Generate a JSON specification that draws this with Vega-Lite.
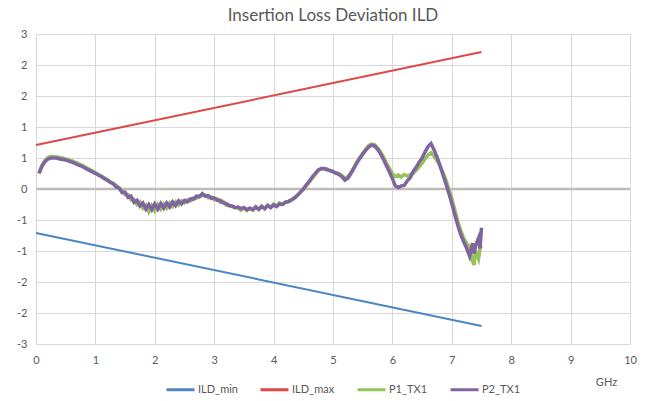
{
  "$schema": "https://vega.github.io/schema/vega-lite/v6.json",
  "autosize": "none",
  "width": 594,
  "height": 310,
  "padding": {"left": 36, "top": 34, "right": 20, "bottom": 57},
  "background": "white",
  "title": {"text": "Insertion Loss Deviation ILD", "fontSize": 17, "font": "Lato", "fontWeight": "normal", "color": "#595959", "anchor": "middle", "offset": 3},
  "config": {
    "view": {"stroke": null},
    "font": "Lato",
    "axis": {"labelFont": "Lato", "labelFontSize": 11, "labelColor": "#595959", "gridColor": "#d9d9d9", "gridWidth": 1, "ticks": false, "domain": false, "labelOverlap": false}
  },
  "datasets": {
    "ild": [
      {"f": 0, "ILD_min": -0.85, "ILD_max": 0.85},
      {"f": 7.5, "ILD_min": -2.65, "ILD_max": 2.65}
    ],
    "meas": [
      {"f": 0.05, "P1_TX1": 0.31, "P2_TX1": 0.30},
      {"f": 0.10, "P1_TX1": 0.46, "P2_TX1": 0.44},
      {"f": 0.15, "P1_TX1": 0.55, "P2_TX1": 0.53},
      {"f": 0.20, "P1_TX1": 0.61, "P2_TX1": 0.58},
      {"f": 0.25, "P1_TX1": 0.63, "P2_TX1": 0.60},
      {"f": 0.30, "P1_TX1": 0.63, "P2_TX1": 0.60},
      {"f": 0.35, "P1_TX1": 0.62, "P2_TX1": 0.60},
      {"f": 0.40, "P1_TX1": 0.61, "P2_TX1": 0.58},
      {"f": 0.45, "P1_TX1": 0.60, "P2_TX1": 0.57},
      {"f": 0.50, "P1_TX1": 0.58, "P2_TX1": 0.56},
      {"f": 0.55, "P1_TX1": 0.57, "P2_TX1": 0.54},
      {"f": 0.60, "P1_TX1": 0.55, "P2_TX1": 0.52},
      {"f": 0.65, "P1_TX1": 0.52, "P2_TX1": 0.50},
      {"f": 0.70, "P1_TX1": 0.50, "P2_TX1": 0.47},
      {"f": 0.75, "P1_TX1": 0.47, "P2_TX1": 0.45},
      {"f": 0.80, "P1_TX1": 0.45, "P2_TX1": 0.42},
      {"f": 0.85, "P1_TX1": 0.41, "P2_TX1": 0.39},
      {"f": 0.90, "P1_TX1": 0.38, "P2_TX1": 0.36},
      {"f": 0.95, "P1_TX1": 0.35, "P2_TX1": 0.33},
      {"f": 1.00, "P1_TX1": 0.32, "P2_TX1": 0.30},
      {"f": 1.05, "P1_TX1": 0.28, "P2_TX1": 0.27},
      {"f": 1.10, "P1_TX1": 0.25, "P2_TX1": 0.24},
      {"f": 1.15, "P1_TX1": 0.22, "P2_TX1": 0.20},
      {"f": 1.20, "P1_TX1": 0.18, "P2_TX1": 0.17},
      {"f": 1.25, "P1_TX1": 0.14, "P2_TX1": 0.13},
      {"f": 1.30, "P1_TX1": 0.11, "P2_TX1": 0.10},
      {"f": 1.35, "P1_TX1": 0.07, "P2_TX1": 0.04},
      {"f": 1.40, "P1_TX1": 0.02, "P2_TX1": 0.02},
      {"f": 1.45, "P1_TX1": -0.03, "P2_TX1": -0.07},
      {"f": 1.50, "P1_TX1": -0.11, "P2_TX1": -0.06},
      {"f": 1.55, "P1_TX1": -0.11, "P2_TX1": -0.16},
      {"f": 1.60, "P1_TX1": -0.21, "P2_TX1": -0.14},
      {"f": 1.65, "P1_TX1": -0.20, "P2_TX1": -0.26},
      {"f": 1.70, "P1_TX1": -0.30, "P2_TX1": -0.22},
      {"f": 1.75, "P1_TX1": -0.25, "P2_TX1": -0.33},
      {"f": 1.80, "P1_TX1": -0.37, "P2_TX1": -0.27},
      {"f": 1.85, "P1_TX1": -0.31, "P2_TX1": -0.39},
      {"f": 1.90, "P1_TX1": -0.44, "P2_TX1": -0.30},
      {"f": 1.95, "P1_TX1": -0.32, "P2_TX1": -0.40},
      {"f": 2.00, "P1_TX1": -0.42, "P2_TX1": -0.29},
      {"f": 2.05, "P1_TX1": -0.30, "P2_TX1": -0.39},
      {"f": 2.10, "P1_TX1": -0.39, "P2_TX1": -0.28},
      {"f": 2.15, "P1_TX1": -0.29, "P2_TX1": -0.37},
      {"f": 2.20, "P1_TX1": -0.37, "P2_TX1": -0.27},
      {"f": 2.25, "P1_TX1": -0.27, "P2_TX1": -0.35},
      {"f": 2.30, "P1_TX1": -0.34, "P2_TX1": -0.25},
      {"f": 2.35, "P1_TX1": -0.25, "P2_TX1": -0.32},
      {"f": 2.40, "P1_TX1": -0.31, "P2_TX1": -0.23},
      {"f": 2.45, "P1_TX1": -0.23, "P2_TX1": -0.29},
      {"f": 2.50, "P1_TX1": -0.27, "P2_TX1": -0.22},
      {"f": 2.55, "P1_TX1": -0.21, "P2_TX1": -0.25},
      {"f": 2.60, "P1_TX1": -0.23, "P2_TX1": -0.19},
      {"f": 2.65, "P1_TX1": -0.17, "P2_TX1": -0.20},
      {"f": 2.70, "P1_TX1": -0.18, "P2_TX1": -0.14},
      {"f": 2.75, "P1_TX1": -0.13, "P2_TX1": -0.15},
      {"f": 2.80, "P1_TX1": -0.13, "P2_TX1": -0.09},
      {"f": 2.85, "P1_TX1": -0.12, "P2_TX1": -0.14},
      {"f": 2.90, "P1_TX1": -0.17, "P2_TX1": -0.13},
      {"f": 2.95, "P1_TX1": -0.15, "P2_TX1": -0.18},
      {"f": 3.00, "P1_TX1": -0.21, "P2_TX1": -0.17},
      {"f": 3.05, "P1_TX1": -0.19, "P2_TX1": -0.22},
      {"f": 3.10, "P1_TX1": -0.26, "P2_TX1": -0.22},
      {"f": 3.15, "P1_TX1": -0.24, "P2_TX1": -0.27},
      {"f": 3.20, "P1_TX1": -0.31, "P2_TX1": -0.28},
      {"f": 3.25, "P1_TX1": -0.32, "P2_TX1": -0.32},
      {"f": 3.30, "P1_TX1": -0.34, "P2_TX1": -0.33},
      {"f": 3.35, "P1_TX1": -0.36, "P2_TX1": -0.36},
      {"f": 3.40, "P1_TX1": -0.37, "P2_TX1": -0.35},
      {"f": 3.45, "P1_TX1": -0.41, "P2_TX1": -0.38},
      {"f": 3.50, "P1_TX1": -0.36, "P2_TX1": -0.36},
      {"f": 3.55, "P1_TX1": -0.42, "P2_TX1": -0.40},
      {"f": 3.60, "P1_TX1": -0.37, "P2_TX1": -0.37},
      {"f": 3.65, "P1_TX1": -0.41, "P2_TX1": -0.40},
      {"f": 3.70, "P1_TX1": -0.34, "P2_TX1": -0.35},
      {"f": 3.75, "P1_TX1": -0.40, "P2_TX1": -0.39},
      {"f": 3.80, "P1_TX1": -0.33, "P2_TX1": -0.34},
      {"f": 3.85, "P1_TX1": -0.38, "P2_TX1": -0.38},
      {"f": 3.90, "P1_TX1": -0.31, "P2_TX1": -0.32},
      {"f": 3.95, "P1_TX1": -0.36, "P2_TX1": -0.36},
      {"f": 4.00, "P1_TX1": -0.29, "P2_TX1": -0.31},
      {"f": 4.05, "P1_TX1": -0.33, "P2_TX1": -0.34},
      {"f": 4.10, "P1_TX1": -0.27, "P2_TX1": -0.29},
      {"f": 4.15, "P1_TX1": -0.30, "P2_TX1": -0.30},
      {"f": 4.20, "P1_TX1": -0.25, "P2_TX1": -0.26},
      {"f": 4.25, "P1_TX1": -0.25, "P2_TX1": -0.24},
      {"f": 4.30, "P1_TX1": -0.22, "P2_TX1": -0.21},
      {"f": 4.35, "P1_TX1": -0.18, "P2_TX1": -0.17},
      {"f": 4.40, "P1_TX1": -0.13, "P2_TX1": -0.12},
      {"f": 4.45, "P1_TX1": -0.07, "P2_TX1": -0.06},
      {"f": 4.50, "P1_TX1": -0.01, "P2_TX1": 0.00},
      {"f": 4.55, "P1_TX1": 0.06, "P2_TX1": 0.08},
      {"f": 4.60, "P1_TX1": 0.13, "P2_TX1": 0.15},
      {"f": 4.65, "P1_TX1": 0.21, "P2_TX1": 0.23},
      {"f": 4.70, "P1_TX1": 0.28, "P2_TX1": 0.30},
      {"f": 4.75, "P1_TX1": 0.35, "P2_TX1": 0.37},
      {"f": 4.80, "P1_TX1": 0.40, "P2_TX1": 0.39},
      {"f": 4.85, "P1_TX1": 0.38, "P2_TX1": 0.40},
      {"f": 4.90, "P1_TX1": 0.39, "P2_TX1": 0.37},
      {"f": 4.95, "P1_TX1": 0.35, "P2_TX1": 0.36},
      {"f": 5.00, "P1_TX1": 0.35, "P2_TX1": 0.33},
      {"f": 5.05, "P1_TX1": 0.30, "P2_TX1": 0.31},
      {"f": 5.10, "P1_TX1": 0.30, "P2_TX1": 0.28},
      {"f": 5.15, "P1_TX1": 0.26, "P2_TX1": 0.24},
      {"f": 5.20, "P1_TX1": 0.21, "P2_TX1": 0.17},
      {"f": 5.25, "P1_TX1": 0.24, "P2_TX1": 0.21},
      {"f": 5.30, "P1_TX1": 0.31, "P2_TX1": 0.30},
      {"f": 5.35, "P1_TX1": 0.41, "P2_TX1": 0.40},
      {"f": 5.40, "P1_TX1": 0.52, "P2_TX1": 0.50},
      {"f": 5.45, "P1_TX1": 0.61, "P2_TX1": 0.59},
      {"f": 5.50, "P1_TX1": 0.69, "P2_TX1": 0.67},
      {"f": 5.55, "P1_TX1": 0.77, "P2_TX1": 0.75},
      {"f": 5.60, "P1_TX1": 0.84, "P2_TX1": 0.81},
      {"f": 5.65, "P1_TX1": 0.87, "P2_TX1": 0.85},
      {"f": 5.70, "P1_TX1": 0.86, "P2_TX1": 0.83},
      {"f": 5.75, "P1_TX1": 0.80, "P2_TX1": 0.77},
      {"f": 5.80, "P1_TX1": 0.72, "P2_TX1": 0.68},
      {"f": 5.85, "P1_TX1": 0.62, "P2_TX1": 0.57},
      {"f": 5.90, "P1_TX1": 0.50, "P2_TX1": 0.45},
      {"f": 5.95, "P1_TX1": 0.40, "P2_TX1": 0.33},
      {"f": 6.00, "P1_TX1": 0.30, "P2_TX1": 0.20},
      {"f": 6.05, "P1_TX1": 0.24, "P2_TX1": 0.06},
      {"f": 6.10, "P1_TX1": 0.27, "P2_TX1": 0.03},
      {"f": 6.15, "P1_TX1": 0.23, "P2_TX1": 0.06},
      {"f": 6.20, "P1_TX1": 0.28, "P2_TX1": 0.07},
      {"f": 6.25, "P1_TX1": 0.25, "P2_TX1": 0.16},
      {"f": 6.30, "P1_TX1": 0.28, "P2_TX1": 0.22},
      {"f": 6.35, "P1_TX1": 0.30, "P2_TX1": 0.34},
      {"f": 6.40, "P1_TX1": 0.36, "P2_TX1": 0.42},
      {"f": 6.45, "P1_TX1": 0.43, "P2_TX1": 0.52},
      {"f": 6.50, "P1_TX1": 0.50, "P2_TX1": 0.60},
      {"f": 6.55, "P1_TX1": 0.58, "P2_TX1": 0.72},
      {"f": 6.60, "P1_TX1": 0.66, "P2_TX1": 0.82},
      {"f": 6.65, "P1_TX1": 0.70, "P2_TX1": 0.88},
      {"f": 6.70, "P1_TX1": 0.64, "P2_TX1": 0.76},
      {"f": 6.75, "P1_TX1": 0.55, "P2_TX1": 0.62},
      {"f": 6.80, "P1_TX1": 0.45, "P2_TX1": 0.46},
      {"f": 6.85, "P1_TX1": 0.32, "P2_TX1": 0.28},
      {"f": 6.90, "P1_TX1": 0.18, "P2_TX1": 0.10},
      {"f": 6.95, "P1_TX1": 0.00, "P2_TX1": -0.08},
      {"f": 7.00, "P1_TX1": -0.18, "P2_TX1": -0.28},
      {"f": 7.05, "P1_TX1": -0.40, "P2_TX1": -0.50},
      {"f": 7.10, "P1_TX1": -0.62, "P2_TX1": -0.70},
      {"f": 7.15, "P1_TX1": -0.80, "P2_TX1": -0.88},
      {"f": 7.20, "P1_TX1": -0.95, "P2_TX1": -1.02},
      {"f": 7.25, "P1_TX1": -1.05, "P2_TX1": -1.15},
      {"f": 7.30, "P1_TX1": -1.12, "P2_TX1": -1.30},
      {"f": 7.35, "P1_TX1": -1.40, "P2_TX1": -1.05},
      {"f": 7.375, "P1_TX1": -1.47, "P2_TX1": -1.25},
      {"f": 7.40, "P1_TX1": -1.20, "P2_TX1": -1.10},
      {"f": 7.45, "P1_TX1": -1.35, "P2_TX1": -0.95},
      {"f": 7.475, "P1_TX1": -1.15, "P2_TX1": -1.15},
      {"f": 7.50, "P1_TX1": -1.10, "P2_TX1": -0.75}
    ]
  },
  "layer": [
    {
      "data": {"values": [{"z": 0}]},
      "mark": {"type": "rule", "color": "#bfbcb8", "strokeWidth": 2.5},
      "encoding": {
        "y": {"field": "z", "type": "quantitative", "title": null,
          "scale": {"domain": [-3, 3], "nice": false, "zero": false},
          "axis": {"values": [-3, -2.4, -1.8, -1.2, -0.6, 0, 0.6, 1.2, 1.8, 2.4, 3], "tickCount": 20, "format": ".1f", "labelExpr": "'' + round(datum.value)", "labelPadding": 9, "title": null, "labelOverlap": false, "labelBound": false, "labelFlush": false}}
      }
    },
    {
      "data": {"name": "ild"},
      "transform": [{"fold": ["ILD_min", "ILD_max"], "as": ["s", "v"]}],
      "mark": {"type": "line", "strokeWidth": 2},
      "encoding": {
        "x": {"field": "f", "type": "quantitative", "title": "GHz",
          "scale": {"domain": [0, 10], "nice": false, "zero": false},
          "axis": {"values": [0, 1, 2, 3, 4, 5, 6, 7, 8, 9, 10], "tickCount": 20, "format": ".0f", "labelPadding": 10, "labelOverlap": false, "labelFlush": false, "titleX": 570, "titleY": 38, "titleAlign": "center", "titleBaseline": "middle", "titleFontSize": 11, "titleFontWeight": "normal", "titleColor": "#595959", "titleFont": "Lato"}},
        "y": {"field": "v", "type": "quantitative", "title": null},
        "color": {"field": "s", "type": "nominal",
          "scale": {"domain": ["ILD_min", "ILD_max", "P1_TX1", "P2_TX1"], "range": ["#4a86c5", "#e04848", "#94c45a", "#8064a2"]},
          "legend": {"title": null, "orient": "none", "direction": "horizontal", "legendX": 129, "legendY": 340, "symbolType": "stroke", "symbolSize": 784, "symbolStrokeWidth": 3, "labelFontSize": 11, "labelColor": "#595959", "labelFont": "Lato", "labelOffset": 2, "columnPadding": 16, "padding": 0}}
      }
    },
    {
      "data": {"name": "meas"},
      "transform": [{"fold": ["P1_TX1", "P2_TX1"], "as": ["s", "v"]}],
      "mark": {"type": "line", "strokeWidth": 3.5},
      "encoding": {
        "x": {"field": "f", "type": "quantitative"},
        "y": {"field": "v", "type": "quantitative", "title": null},
        "color": {"field": "s", "type": "nominal"}
      }
    }
  ]
}
